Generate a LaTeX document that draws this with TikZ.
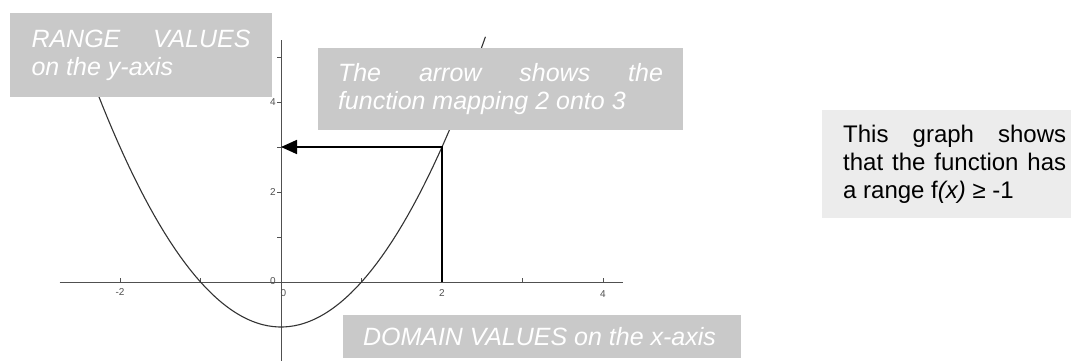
\documentclass[tikz,border=0pt]{standalone}
\usepackage{fontspec}
\setmainfont{Liberation Sans}
\usetikzlibrary{arrows.meta}
\definecolor{notegray}{HTML}{C9C9C9}
\definecolor{palegray}{HTML}{ECECEC}
\definecolor{axisgray}{HTML}{505050}

\begin{document}
\begin{tikzpicture}[
  x=1pt,y=1pt,
  note/.style={fill=notegray,text=white,inner ysep=0pt,align=justify,
               font=\fontsize{25}{28}\selectfont\itshape},
  info/.style={fill=palegray,text=black,inner xsep=21pt,inner ysep=0pt,
               align=justify,text width=223pt,minimum height=108pt,
               font=\fontsize{24}{28}\selectfont},
  axis/.style={axisgray,line width=0.8pt},
  tickmark/.style={axisgray,line width=0.6pt},
  ticklab/.style={font=\fontsize{10}{12}\selectfont,text=axisgray,inner sep=1pt},
  curve/.style={black!80,line width=1.1pt},
  maparrow/.style={black,line width=1.8pt,-{Triangle[length=16pt,width=14pt]}}
]
  \useasboundingbox (0,0) rectangle (1071,360);

  % graph of f(x) = x^2 - 1
  \begin{scope}[shift={(281,78)},x=80.5pt,y=45pt]
    \draw[axis] (-2.75,0) -- (4.25,0);
    \draw[axis] (0,-1.8) -- (0,5.38);
    \foreach \i in {-2,-1,1,2,3,4} \draw[tickmark] (\i,0) -- (\i,0.08);
    \foreach \j in {1,...,5} \draw[tickmark] (0,\j) -- (-0.05,\j);
    \node[ticklab] (xlabm2) at (-2,-0.22) {-2};
    \node[ticklab] (xlab2) at (2,-0.24) {2};
    \node[ticklab] (xlab4) at (4,-0.26) {4};
    \node[ticklab] (xlab0) at (0.03,-0.24) {0};
    \node[ticklab] (ylab0) at (-0.1,0.02) {0};
    \node[ticklab] (ylab2) at (-0.1,2) {2};
    \node[ticklab] (ylab4) at (-0.1,4) {4};

    \draw[curve] plot[domain=-2.54:2.54,samples=80] (\x,{\x*\x-1});

    \coordinate (dom) at (2,0);
    \coordinate (img) at (2,3);
    \coordinate (rng) at (0,3);
    \draw[maparrow] (dom) -- (img) -- (rng);
  \end{scope}

  % notes
  \node[note,text width=219pt,inner xsep=21.5pt,minimum height=84pt] (rangenote)
    at (141,305) {RANGE VALUES\linebreak on the y-axis};
  \node[note,text width=325pt,inner xsep=20pt,minimum height=82pt] (mapnote)
    at (500.5,271) {The arrow shows the\linebreak function mapping 2 onto 3};
  \node[note,text width=358pt,inner xsep=20pt,minimum height=43pt] (domainnote)
    at (542,23.5) {DOMAIN VALUES on the x-axis};
  \node[info,anchor=west] (rangeinfo)
    at (822,196) {This graph shows\linebreak that the function has\linebreak a range f\textit{(x)} ≥ -1};
\end{tikzpicture}
\end{document}
